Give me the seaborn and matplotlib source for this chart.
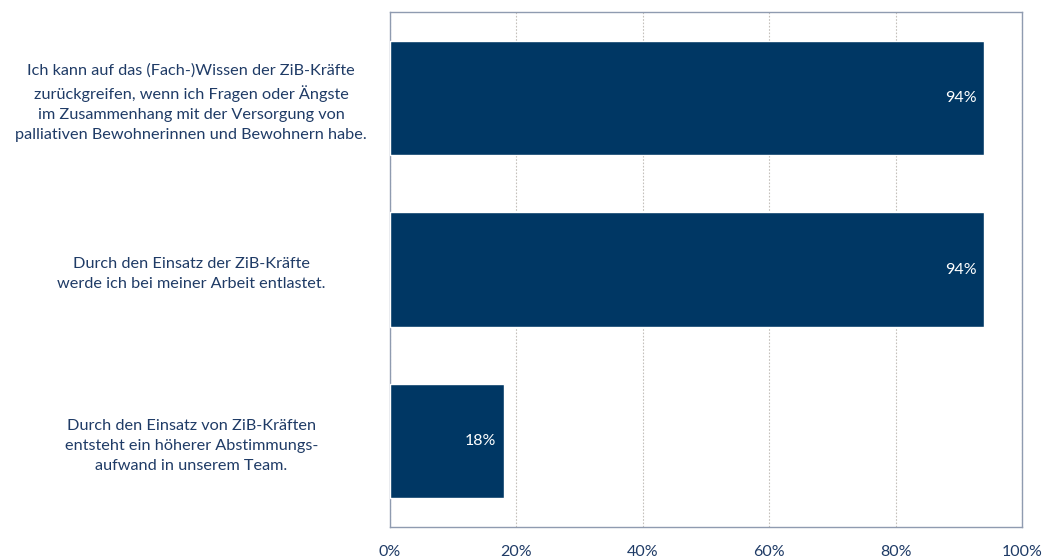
import pandas as pd
import numpy as np
import matplotlib.pyplot as plt
import seaborn as sns
import matplotlib.ticker as ticker

categories = [
    "Ich kann auf das (Fach-)Wissen der ZiB-Kräfte\nzurückgreifen, wenn ich Fragen oder Ängste\nim Zusammenhang mit der Versorgung von\npalliativen Bewohnerinnen und Bewohnern habe.",
    "Durch den Einsatz der ZiB-Kräfte\nwerde ich bei meiner Arbeit entlastet.",
    "Durch den Einsatz von ZiB-Kräften\nentsteht ein höherer Abstimmungs-\naufwand in unserem Team.",
]
values = [94, 94, 18]

df = pd.DataFrame({"Aussage": categories, "Anteil": values})

sns.set_style("white")
plt.rcParams['font.family'] = ['Lato', 'DejaVu Sans']

text_color = "#1f3b66"
bar_color = "#003764"

fig = plt.figure(figsize=(10.45, 5.6), dpi=100)
ax = fig.add_axes([390 / 1045, (560 - 527) / 560, 632 / 1045, 515 / 560])

sns.barplot(data=df, x="Anteil", y="Aussage", color=bar_color, width=0.667,
            saturation=1, ax=ax, zorder=3)

ax.set_xlim(0, 100)
ax.set_ylim(2.5, -0.5)
ax.xaxis.set_major_locator(ticker.MultipleLocator(20))
ax.xaxis.set_major_formatter(ticker.FuncFormatter(lambda x, _: f'{x:.0f}%'))
ax.grid(axis='x', color='#c4c0bb', linestyle=(0, (1.5, 1.5)), linewidth=0.8, zorder=0)
ax.set_xlabel("")
ax.set_ylabel("")

for s in ax.spines.values():
    s.set_color("#8f9bb0")
    s.set_linewidth(1.0)

ax.tick_params(axis='x', colors=text_color, labelsize=11.5, length=0, pad=13)
ax.tick_params(axis='y', length=0, pad=12)
for lab in ax.get_yticklabels():
    lab.set_color(text_color)
    lab.set_fontsize(11.7)
    lab.set_horizontalalignment('center')
    lab.set_linespacing(1.55)
    lab.set_x(-0.288)

for i, v in enumerate(values):
    ax.text(v - 1.2, i, f"{v}%", color="white", ha="right", va="center", fontsize=11.5)

fig.savefig("out.png", dpi=100)
